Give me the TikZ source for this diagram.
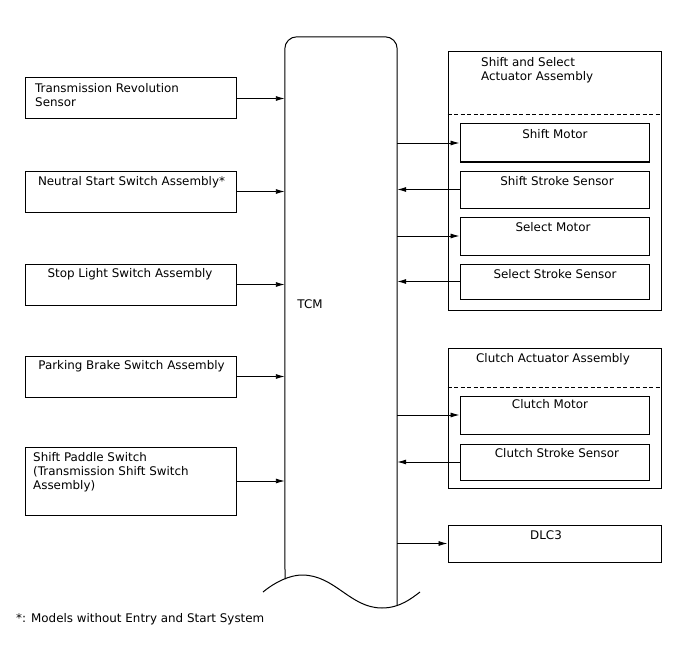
\documentclass[tikz,border=0pt]{standalone}
\usepackage{fontspec}
\setmainfont{DejaVu Sans}
\usetikzlibrary{arrows.meta}
\tikzset{
  unit/.style={draw, line width=1pt, inner sep=0pt},
  sig/.style={-{Latex[length=9pt, width=5pt]}, line width=0.9pt},
  sep/.style={line width=1pt, dash pattern=on 4pt off 2.5pt},
  lbl/.style={inner sep=0pt, anchor=base, font=\fontsize{11.9}{14}\selectfont},
  lbll/.style={lbl, anchor=base west, align=left}
}

\begin{document}
\begin{tikzpicture}[x=1pt, y=-1pt]
\useasboundingbox (0,0) rectangle (688,658);

% TCM
\node[inner sep=0pt, minimum width=112pt, minimum height=567pt] (tcm) at (341,320.5) {};
\draw[line width=1pt, rounded corners=12pt] (285,579) -- (tcm.north west) -- (tcm.north east) -- (397,605);
\draw[line width=1pt] (263,592) .. controls (275,582) and (290,575) .. (302,575)
  .. controls (335,575) and (350,608) .. (382,608) .. controls (400,608) and (412,598) .. (420,592);
\node[lbl] (tcmtxt) at (310,308.5) {TCM};

% inputs (multi-line labels sit on their last baseline)
\node[unit, minimum width=211pt, minimum height=41pt] (trs) at (130.5,98.5) {};
\node[unit, minimum width=211pt, minimum height=41pt] (nss) at (130.5,191.5) {};
\node[unit, minimum width=211pt, minimum height=41pt] (sls) at (130.5,284.5) {};
\node[unit, minimum width=211pt, minimum height=41pt] (pbs) at (130.5,376.5) {};
\node[unit, minimum width=211pt, minimum height=68pt] (sps) at (130.5,481) {};
\node[lbll] (trstxt) at (35,106.5) {Transmission Revolution\\Sensor};
\node[lbl] (nsstxt) at (131.5,185.5) {Neutral Start Switch Assembly*};
\node[lbl] (slstxt) at (130,277.5) {Stop Light Switch Assembly};
\node[lbl] (pbstxt) at (131.5,369.5) {Parking Brake Switch Assembly};
\node[lbll] (spstxt) at (33,489.5) {Shift Paddle Switch\\(Transmission Shift Switch\\Assembly)};

\foreach \n in {trs,nss,sls,pbs,sps}
  \draw[sig] (\n.east) -- (\n.east -| tcm.west);

% shift and select actuator
\node[unit, minimum width=213pt, minimum height=258pt] (ssa) at (554.5,181) {};
\draw[sep] (ssa.west |- 0,115) -- (ssa.east |- 0,115);
\node[lbll] (ssatxt) at (481,80.5) {Shift and Select\\Actuator Assembly};
\node[unit, minimum width=189pt, minimum height=38pt] (shm) at (554.5,143) {};
\node[unit, minimum width=189pt, minimum height=37pt] (shs) at (554.5,189.5) {};
\node[unit, minimum width=189pt, minimum height=38pt] (sem) at (554.5,236) {};
\node[unit, minimum width=189pt, minimum height=35pt] (ses) at (554.5,281.5) {};
\node[lbl] (shmtxt) at (555,138.5) {Shift Motor};
\node[lbl] (shstxt) at (557,185.5) {Shift Stroke Sensor};
\node[lbl] (semtxt) at (553,231.5) {Select Motor};
\node[lbl] (sestxt) at (555,278.5) {Select Stroke Sensor};

% clutch actuator
\node[unit, minimum width=213pt, minimum height=140pt] (cla) at (554.5,418) {};
\draw[sep] (cla.west |- 0,387) -- (cla.east |- 0,387);
\node[lbl] (clatxt) at (553,362.5) {Clutch Actuator Assembly};
\node[unit, minimum width=189pt, minimum height=38pt] (clm) at (554.5,415) {};
\node[unit, minimum width=189pt, minimum height=36pt] (cls) at (554.5,462) {};
\node[lbl] (clmtxt) at (550,408.5) {Clutch Motor};
\node[lbl] (clstxt) at (557,457.5) {Clutch Stroke Sensor};

% DLC3
\node[unit, minimum width=213pt, minimum height=37pt] (dlc) at (554.5,543.5) {};
\node[lbl] (dlctxt) at (546,539.5) {DLC3};

% outputs / feedback
\foreach \n in {shm,sem,clm,dlc}
  \draw[sig] (\n.west -| tcm.east) -- (\n.west);
\foreach \n in {shs,ses,cls}
  \draw[sig] (\n.west) -- (\n.west -| tcm.east);

\node[lbll] (note) at (16,622.5) {*: Models without Entry and Start System};
\end{tikzpicture}
\end{document}
